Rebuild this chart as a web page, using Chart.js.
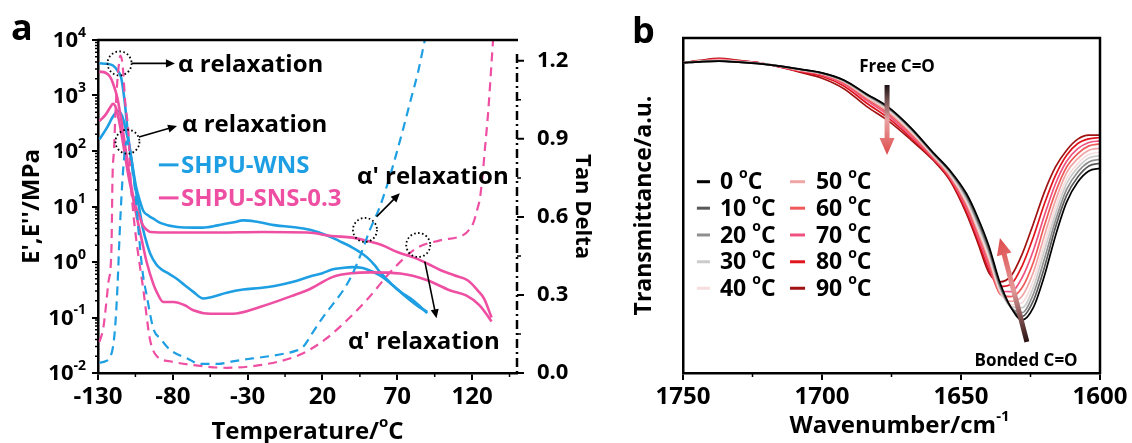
<!DOCTYPE html>
<html>
<head>
<meta charset="utf-8">
<script src="https://cdn.jsdelivr.net/npm/chart.js@4"></script>
<style>
  html, body { margin: 0; padding: 0; background: #fff; }
  #wrap { position: relative; width: 1132px; height: 443px; overflow: hidden; }
  #chartA { position: absolute; left: 0; top: 0; }
  #chartB { position: absolute; left: 620px; top: 0; }
</style>
</head>
<body>
<div id="wrap">
  <canvas id="chartA" width="620" height="443"></canvas>
  <canvas id="chartB" width="512" height="443"></canvas>
</div>
<script>
// ---------- panel a : DMA ----------
const tempTicks = [-130, -80, -30, 20, 70, 120];
const modulusTicks = [0.01, 0.1, 1, 10, 100, 1000, 10000];
const tanTicks = [0, 0.3, 0.6, 0.9, 1.2];
const seriesNames = ["SHPU-WNS", "SHPU-SNS-0.3"];
const seriesColors = ["#1f9fe3", "#ee4fa2"];

// SHPU-WNS storage modulus E' (MPa)
const wnsStorageT = [-129, -124, -120, -117, -114.5, -112, -110, -107, -104.5, -102, -99.7, -96, -93, -88, -77, -66, -60, -50, -40, -33, -25, -11, 0, 11.6, 24, 31, 40, 45, 50, 55, 58.4, 62, 67, 72, 79, 84, 90];
const wnsStorage = [3800, 3720, 3470, 2820, 2090, 708, 200, 56, 22.4, 12.6, 8.3, 6.76, 6.03, 5.01, 4.27, 4.17, 4.17, 4.57, 5.13, 5.62, 5.37, 4.57, 4.27, 3.80, 2.95, 2.40, 1.82, 1.51, 1.20, 0.871, 0.661, 0.525, 0.380, 0.288, 0.200, 0.158, 0.126];
// SHPU-WNS loss modulus E'' (MPa)
const wnsLossT = [-129, -124, -120, -116.7, -114, -112, -109, -106.4, -104.8, -102, -100, -97, -95, -91, -88, -82, -77.4, -72, -66.3, -59.7, -55, -44, -33, -21.8, -12, 0.5, 11.6, 20, 27, 33, 40, 46, 54, 60, 67, 73, 79, 84, 90];
const wnsLoss = [162, 263, 417, 525, 437, 282, 120, 40, 20, 8, 4, 2.0, 1.4, 0.9, 0.75, 0.60, 0.50, 0.38, 0.29, 0.22, 0.23, 0.28, 0.32, 0.34, 0.37, 0.44, 0.55, 0.63, 0.74, 0.78, 0.81, 0.79, 0.66, 0.54, 0.38, 0.28, 0.22, 0.17, 0.12];
// SHPU-WNS tan delta
const wnsTanT = [-129, -125, -122, -120, -118.5, -117, -115.5, -114, -112.5, -110.8, -109, -107, -105, -103, -100, -97.5, -93, -88, -82, -70, -62, -50, -40, -28, -15, -5, 2, 7, 14, 20.5, 27, 34, 40, 45, 51.7, 58.4, 65, 69.5, 74, 79, 84, 88.4];
const wnsTan = [0.04, 0.045, 0.06, 0.1, 0.18, 0.33, 0.54, 0.71, 0.83, 0.89, 0.86, 0.78, 0.69, 0.55, 0.38, 0.3, 0.17, 0.13, 0.09, 0.055, 0.035, 0.035, 0.045, 0.055, 0.065, 0.075, 0.085, 0.1, 0.16, 0.216, 0.265, 0.319, 0.38, 0.447, 0.55, 0.64, 0.755, 0.845, 0.94, 1.05, 1.16, 1.28];

// SHPU-SNS-0.3 storage modulus E' (MPa)
const snsStorageT = [-129, -125, -122, -120, -117, -115, -113, -110, -107, -104.8, -102, -100, -97, -95, -80, -50, -20, 10, 26, 40, 50, 60, 70, 83, 91, 99, 108, 117, 124, 128, 133];
const snsStorage = [2690, 2570, 2190, 1660, 891, 447, 200, 56, 17.8, 10, 6.3, 4.57, 3.72, 3.47, 3.39, 3.39, 3.47, 3.39, 2.95, 2.75, 2.40, 2.0, 1.51, 1.15, 0.91, 0.71, 0.575, 0.468, 0.302, 0.219, 0.10];
// SHPU-SNS-0.3 loss modulus E'' (MPa)
const snsLossT = [-129, -125, -122, -120, -118, -116, -113, -110, -107, -104, -102, -100, -97.5, -93, -90.8, -86.4, -79.7, -72, -66.3, -55, -40, -21.8, 0.5, 12, 27, 40, 52, 72, 90, 105, 116, 125, 133];
const snsLoss = [347, 447, 603, 708, 603, 355, 126, 40, 15.8, 6.3, 3.55, 2.0, 1.0, 0.40, 0.29, 0.19, 0.19, 0.166, 0.135, 0.117, 0.117, 0.155, 0.25, 0.33, 0.54, 0.63, 0.65, 0.62, 0.47, 0.31, 0.25, 0.166, 0.085];
// SHPU-SNS-0.3 tan delta
const snsTanT = [-129, -126.4, -123, -121, -120.3, -119.3, -118, -116.5, -115, -113.5, -111.8, -109.5, -108.4, -106.5, -104.6, -99.7, -95.3, -90.8, -82, -66, -44, -22, 0.5, 11.6, 22, 34, 49.5, 67.3, 83, 98.5, 114, 118, 121, 123.5, 125.2, 127, 128.7, 130.7, 132.5, 134];
const snsTan = [0.12, 0.175, 0.35, 0.48, 0.75, 0.86, 1.04, 1.16, 1.22, 1.18, 1.04, 0.91, 0.76, 0.62, 0.52, 0.32, 0.13, 0.065, 0.045, 0.03, 0.02, 0.03, 0.06, 0.09, 0.13, 0.19, 0.28, 0.40, 0.48, 0.51, 0.53, 0.55, 0.58, 0.63, 0.67, 0.76, 0.87, 1.0, 1.15, 1.28];

// ---------- panel b : FTIR ----------
const waveTicks = [1750, 1700, 1650, 1600];
const waveNumbers = [1750, 1744, 1737, 1730, 1722, 1715, 1708, 1700, 1692, 1684, 1676, 1668, 1660, 1654, 1648, 1644, 1640, 1636, 1632, 1628, 1624, 1620, 1616, 1612, 1608, 1604, 1600];
const ftirTemps = [0, 10, 20, 30, 40, 50, 60, 70, 80, 90];
const ftir0  = [92.6, 92.9, 93.1, 92.8, 92.3, 91.6, 90.7, 89.6, 87.4, 83.3, 79.3, 73.2, 65.8, 60.5, 53.5, 46.5, 38.0, 27.0, 19.5, 15.8, 19.5, 29.0, 41.0, 51.0, 57.0, 60.3, 61.1];
const ftir10 = [92.6, 92.9, 93.1, 92.8, 92.3, 91.6, 90.7, 89.5, 87.3, 83.2, 79.1, 73.0, 65.6, 60.3, 53.0, 45.8, 37.2, 26.4, 19.5, 16.9, 21.5, 31.5, 43.5, 53.0, 58.5, 61.8, 62.6];
const ftir20 = [92.6, 92.9, 93.2, 92.8, 92.3, 91.6, 90.6, 89.5, 87.2, 83.0, 78.9, 72.8, 65.4, 60.0, 52.4, 45.0, 36.4, 25.8, 19.6, 18.0, 23.5, 34.0, 45.5, 54.8, 60.0, 63.0, 63.8];
const ftir30 = [92.6, 93.0, 93.2, 92.9, 92.4, 91.6, 90.6, 89.4, 87.1, 82.8, 78.6, 72.5, 65.2, 59.7, 51.8, 44.2, 35.6, 25.2, 19.8, 19.5, 25.5, 36.5, 47.5, 56.5, 61.3, 64.2, 64.9];
const ftir40 = [92.6, 93.0, 93.3, 92.9, 92.4, 91.6, 90.5, 89.4, 87.0, 82.6, 78.3, 72.2, 65.0, 59.4, 51.2, 43.4, 34.8, 24.6, 20.4, 21.0, 27.5, 38.5, 49.5, 58.0, 62.5, 65.2, 65.9];
const ftir50 = [92.6, 93.0, 93.4, 93.0, 92.4, 91.5, 90.4, 89.3, 86.8, 82.3, 77.9, 71.8, 64.7, 59.0, 50.6, 42.6, 34.0, 24.0, 21.4, 23.0, 30.0, 41.0, 51.5, 59.8, 64.0, 66.5, 67.1];
const ftir60 = [92.6, 93.1, 93.5, 93.0, 92.4, 91.5, 90.3, 89.2, 86.5, 81.9, 77.4, 71.3, 64.4, 58.6, 49.8, 41.7, 33.0, 23.6, 22.8, 25.5, 33.0, 44.0, 54.0, 61.5, 65.5, 67.8, 68.4];
const ftir70 = [92.6, 93.1, 93.6, 93.1, 92.5, 91.4, 90.2, 89.0, 86.2, 81.4, 76.8, 70.7, 64.1, 58.3, 49.0, 40.8, 32.0, 24.4, 24.3, 28.5, 36.5, 47.0, 56.5, 63.2, 67.0, 68.8, 69.3];
const ftir80 = [92.6, 93.2, 93.8, 93.2, 92.5, 91.4, 90.0, 88.6, 85.6, 80.6, 76.0, 70.2, 63.8, 57.9, 48.2, 39.9, 31.0, 25.8, 26.5, 32.0, 40.5, 50.5, 59.0, 65.0, 68.5, 69.9, 70.3];
const ftir90 = [92.6, 93.3, 93.9, 93.3, 92.5, 91.3, 89.8, 88.0, 84.8, 79.6, 75.2, 69.6, 63.5, 57.5, 47.5, 39.0, 30.0, 27.2, 29.0, 35.5, 44.5, 54.0, 61.5, 66.5, 69.8, 71.0, 71.0];
const ftirSeries = [ftir0, ftir10, ftir20, ftir30, ftir40, ftir50, ftir60, ftir70, ftir80, ftir90];
const ftirColors = ["#000000", "#585858", "#8f8f8f", "#cbcbcb", "#f6dede", "#f0a5a5", "#f05a5a", "#ef5280", "#e0141c", "#a01212"];

// ---------- helpers ----------
Chart.defaults.font.family = "'Open Sans', sans-serif";
Chart.defaults.color = "#000";
const FONT = "'Open Sans', sans-serif";

function pairs(xs, ys) { return xs.map((x, i) => ({ x: x, y: ys[i] })); }

function richText(ctx, parts, x, y, size, align) {
  const supSize = Math.round(size * 0.62);
  const widths = parts.map(([t, sup]) => {
    ctx.font = "bold " + (sup ? supSize : size) + "px " + FONT;
    return ctx.measureText(t).width;
  });
  const total = widths.reduce((a, b) => a + b, 0);
  let cx = align === "center" ? x - total / 2 : align === "right" ? x - total : x;
  ctx.textAlign = "left";
  ctx.textBaseline = "middle";
  parts.forEach(([t, sup], i) => {
    ctx.font = "bold " + (sup ? supSize : size) + "px " + FONT;
    ctx.fillText(t, cx, sup ? y - size * 0.38 : y);
    cx += widths[i];
  });
}

function degParts(label) {
  const [a, b] = label.split("°");
  return [[a, false], ["o", true], [b, false]];
}

function arrow(ctx, x1, y1, x2, y2, head) {
  const a = Math.atan2(y2 - y1, x2 - x1);
  ctx.beginPath();
  ctx.moveTo(x1, y1);
  ctx.lineTo(x2 - head * 0.8 * Math.cos(a), y2 - head * 0.8 * Math.sin(a));
  ctx.stroke();
  ctx.beginPath();
  ctx.moveTo(x2, y2);
  ctx.lineTo(x2 - head * Math.cos(a) + head * 0.45 * Math.sin(a), y2 - head * Math.sin(a) - head * 0.45 * Math.cos(a));
  ctx.lineTo(x2 - head * Math.cos(a) - head * 0.45 * Math.sin(a), y2 - head * Math.sin(a) + head * 0.45 * Math.cos(a));
  ctx.closePath();
  ctx.fill();
}

function fatArrow(ctx, x1, y1, x2, y2, stops) {
  const a = Math.atan2(y2 - y1, x2 - x1), len = Math.hypot(x2 - x1, y2 - y1);
  const shaftW = 5, headW = 15, headL = 17;
  const g = ctx.createLinearGradient(x1, y1, x2, y2);
  stops.forEach(([p, c]) => g.addColorStop(p, c));
  ctx.save();
  ctx.translate(x1, y1);
  ctx.rotate(a);
  ctx.beginPath();
  ctx.moveTo(0, -shaftW / 2);
  ctx.lineTo(len - headL, -shaftW / 2);
  ctx.lineTo(len - headL, -headW / 2);
  ctx.lineTo(len, 0);
  ctx.lineTo(len - headL, headW / 2);
  ctx.lineTo(len - headL, shaftW / 2);
  ctx.lineTo(0, shaftW / 2);
  ctx.closePath();
  ctx.restore();
  ctx.fillStyle = g;
  ctx.fill();
}

function minorTicks(ctx, scale, values, len, side, at) {
  ctx.beginPath();
  values.forEach(v => {
    const p = scale.getPixelForValue(v);
    if (side === "bottom") { ctx.moveTo(p, scale.top); ctx.lineTo(p, scale.top + len); }
    if (side === "left") { ctx.moveTo(scale.right, p); ctx.lineTo(scale.right - len, p); }
    if (side === "right") { ctx.moveTo(at, p); ctx.lineTo(at + len, p); }
  });
  ctx.stroke();
}

// annotation spots, in (temperature, tan delta) units
const alphaNotes = [
  { text: "α relaxation", circle: [-115.6, 1.19], from: [-107.6, 1.19], to: [-78.6, 1.19], label: [-76.6, 1.184] },
  { text: "α relaxation", circle: [-110.3, 0.889], from: [-102.6, 0.907], to: [-77.2, 0.949], label: [-73.9, 0.953] },
  { text: "α' relaxation", circle: [48.4, 0.55], from: [56.2, 0.601], to: [71.7, 0.691], label: [43, 0.753] },
  { text: "α' relaxation", circle: [84, 0.492], from: [88.4, 0.428], to: [96.2, 0.21], label: [37, 0.12] }
];

const panelAOverlay = {
  id: "panelAOverlay",
  afterDraw(chart) {
    const { ctx, chartArea: ca } = chart;
    const { x, y, y1 } = chart.scales;
    ctx.save();
    ctx.strokeStyle = "#000";
    ctx.fillStyle = "#000";
    // top frame
    ctx.lineWidth = 2.5;
    ctx.beginPath(); ctx.moveTo(ca.left - 1, ca.top); ctx.lineTo(ca.right + 1, ca.top); ctx.stroke();
    // dash-dot right axis for tan delta
    ctx.setLineDash([9, 4, 2, 4]);
    ctx.beginPath(); ctx.moveTo(ca.right, ca.top + 14); ctx.lineTo(ca.right, ca.bottom); ctx.stroke();
    ctx.setLineDash([]);
    ctx.lineWidth = 2;
    minorTicks(ctx, y1, tanTicks, 7, "right", ca.right);
    // minor ticks
    ctx.lineWidth = 1.5;
    const logMinor = [];
    [0.01, 0.1, 1, 10, 100, 1000].forEach(d => { for (let m = 2; m <= 9; m++) logMinor.push(m * d); });
    minorTicks(ctx, y, logMinor, 3, "left");
    minorTicks(ctx, x, [-105, -55, -5, 45, 95, 145], 4, "bottom");
    minorTicks(ctx, y1, [0.15, 0.45, 0.75, 1.05], 4, "right", ca.right);
    // log labels 10^n
    modulusTicks.forEach(v => {
      const exp = String(Math.round(Math.log10(v)));
      richText(ctx, [["10", false], [exp, true]], ca.left - 12, y.getPixelForValue(v) + 1, 22, "right");
    });
    // x title
    richText(ctx, [["Temperature/", false], ["o", true], ["C", false]], (ca.left + ca.right) / 2, 432, 24, "center");
    // panel letter
    ctx.font = "bold 36px " + FONT;
    ctx.textAlign = "left"; ctx.textBaseline = "alphabetic";
    ctx.fillText("a", 11, 40);
    // legend
    [[0.80, 0], [0.673, 1]].forEach(([tv, i]) => {
      const py = y1.getPixelForValue(tv);
      ctx.strokeStyle = seriesColors[i];
      ctx.lineWidth = 3;
      ctx.beginPath(); ctx.moveTo(x.getPixelForValue(-89.3), py); ctx.lineTo(x.getPixelForValue(-76.2), py); ctx.stroke();
      ctx.fillStyle = seriesColors[i];
      ctx.font = "bold 24px " + FONT;
      ctx.textAlign = "left"; ctx.textBaseline = "middle";
      ctx.fillText(seriesNames[i], x.getPixelForValue(-74.5), py + 1);
    });
    // relaxation notes
    ctx.strokeStyle = "#000"; ctx.fillStyle = "#000";
    alphaNotes.forEach(n => {
      ctx.lineWidth = 1.8;
      ctx.setLineDash([1.6, 2.4]);
      ctx.beginPath();
      ctx.arc(x.getPixelForValue(n.circle[0]), y1.getPixelForValue(n.circle[1]), 12, 0, Math.PI * 2);
      ctx.stroke();
      ctx.setLineDash([]);
      ctx.lineWidth = 1.6;
      arrow(ctx, x.getPixelForValue(n.from[0]), y1.getPixelForValue(n.from[1]),
        x.getPixelForValue(n.to[0]), y1.getPixelForValue(n.to[1]), 9);
      ctx.font = "bold 24px " + FONT;
      ctx.textAlign = "left"; ctx.textBaseline = "middle";
      ctx.fillText(n.text, x.getPixelForValue(n.label[0]), y1.getPixelForValue(n.label[1]));
    });
    ctx.restore();
  }
};

const solid = (label, xs, ys, color) => ({
  label: label, data: pairs(xs, ys), yAxisID: "y", borderColor: color, borderWidth: 2.6,
  pointRadius: 0, cubicInterpolationMode: "monotone", fill: false
});
const dashed = (label, xs, ys, color) => ({
  label: label, data: pairs(xs, ys), yAxisID: "y1", borderColor: color, borderWidth: 2.2,
  borderDash: [9, 6], pointRadius: 0, cubicInterpolationMode: "monotone", fill: false
});

new Chart(document.getElementById("chartA"), {
  type: "line",
  data: {
    datasets: [
      dashed(seriesNames[0] + " tan δ", wnsTanT, wnsTan, seriesColors[0]),
      dashed(seriesNames[1] + " tan δ", snsTanT, snsTan, seriesColors[1]),
      solid(seriesNames[1] + " E''", snsLossT, snsLoss, seriesColors[1]),
      solid(seriesNames[1] + " E'", snsStorageT, snsStorage, seriesColors[1]),
      solid(seriesNames[0] + " E''", wnsLossT, wnsLoss, seriesColors[0]),
      solid(seriesNames[0] + " E'", wnsStorageT, wnsStorage, seriesColors[0])
    ]
  },
  options: {
    responsive: false,
    animation: false,
    devicePixelRatio: 1,
    layout: { padding: { top: 40, left: 0, right: 0, bottom: 0 } },
    plugins: { legend: { display: false }, tooltip: { enabled: false } },
    scales: {
      x: {
        type: "linear", min: -130, max: 150,
        afterBuildTicks: s => { s.ticks = tempTicks.map(v => ({ value: v })); },
        afterFit: s => { s.height = 70; },
        ticks: { font: { size: 24, weight: "bold" }, padding: 3, maxRotation: 0, autoSkip: false, callback: v => String(v) },
        grid: { drawOnChartArea: false, color: "#000", lineWidth: 2, tickLength: 7 },
        border: { color: "#000", width: 2.5 }
      },
      y: {
        type: "logarithmic", position: "left", min: 0.01, max: 10000,
        afterBuildTicks: s => { s.ticks = modulusTicks.map(v => ({ value: v })); },
        afterFit: s => { s.width = 98; },
        ticks: { display: false },
        grid: { drawOnChartArea: false, color: "#000", lineWidth: 2, tickLength: 6 },
        border: { color: "#000", width: 2.5 },
        title: { display: true, text: "E',E''/MPa", font: { size: 24, weight: "bold" }, padding: { top: 18, bottom: 0 } }
      },
      y1: {
        type: "linear", position: "right", min: 0, max: 1.28,
        afterBuildTicks: s => { s.ticks = tanTicks.map(v => ({ value: v })); },
        afterFit: s => { s.width = 103; },
        ticks: { font: { size: 22, weight: "bold" }, padding: 12, callback: v => v.toFixed(1) },
        grid: { display: false },
        border: { display: false },
        title: { display: true, text: "Tan Delta", font: { size: 22, weight: "bold" }, padding: { top: 25, bottom: 0 } }
      }
    }
  },
  plugins: [panelAOverlay]
});

// ---------- panel b ----------
const legendRows = [57.1, 49.2, 41.2, 33.2, 25.3];

const panelBOverlay = {
  id: "panelBOverlay",
  afterDraw(chart) {
    const { ctx, chartArea: ca } = chart;
    const { x, y } = chart.scales;
    ctx.save();
    ctx.strokeStyle = "#000"; ctx.fillStyle = "#000";
    ctx.lineWidth = 2.5;
    ctx.beginPath();
    ctx.moveTo(ca.left - 1, ca.top); ctx.lineTo(ca.right, ca.top); ctx.lineTo(ca.right, ca.bottom + 1);
    ctx.stroke();
    ctx.lineWidth = 1.5;
    minorTicks(ctx, x, [1725, 1675, 1625], 4, "bottom");
    richText(ctx, [["Wavenumber/cm", false], ["-1", true]], (ca.left + ca.right) / 2 + 8, 426, 24, "center");
    ctx.font = "bold 36px " + FONT;
    ctx.textAlign = "left"; ctx.textBaseline = "alphabetic";
    ctx.fillText("b", 12, 43);
    // legend in two columns
    ftirTemps.forEach((t, i) => {
      const col = i < 5 ? 0 : 1;
      const py = y.getPixelForValue(legendRows[i % 5]);
      const lx = col === 0 ? [1745, 1740.3, 1736.7] : [1711.5, 1706.1, 1702.2];
      ctx.strokeStyle = ftirColors[i];
      ctx.lineWidth = 3;
      ctx.beginPath(); ctx.moveTo(x.getPixelForValue(lx[0]), py); ctx.lineTo(x.getPixelForValue(lx[1]), py); ctx.stroke();
      ctx.fillStyle = "#000";
      richText(ctx, degParts(t + " °C"), x.getPixelForValue(lx[2]), py + 1, 23, "left");
    });
    // arrows and labels
    ctx.fillStyle = "#000";
    ctx.font = "bold 17px " + FONT;
    ctx.textAlign = "center"; ctx.textBaseline = "middle";
    ctx.fillText("Free C=O", x.getPixelForValue(1673), y.getPixelForValue(91.3));
    ctx.fillText("Bonded C=O", x.getPixelForValue(1626.6), y.getPixelForValue(3.6));
    fatArrow(ctx, x.getPixelForValue(1676.6), y.getPixelForValue(86), x.getPixelForValue(1676.6), y.getPixelForValue(65.1),
      [[0, "#1a1010"], [0.5, "#e8a2a2"], [1, "#df4b4b"]]);
    fatArrow(ctx, x.getPixelForValue(1626.3), y.getPixelForValue(9.3), x.getPixelForValue(1636), y.getPixelForValue(40.3),
      [[0, "#2a1212"], [0.5, "#e59a9a"], [1, "#df4b4b"]]);
    ctx.restore();
  }
};

new Chart(document.getElementById("chartB"), {
  type: "line",
  data: {
    datasets: ftirSeries.map((s, i) => ({
      label: ftirTemps[i] + " °C",
      data: pairs(waveNumbers, s),
      borderColor: ftirColors[i],
      borderWidth: 1.7,
      pointRadius: 0,
      cubicInterpolationMode: "monotone",
      fill: false
    }))
  },
  options: {
    responsive: false,
    animation: false,
    devicePixelRatio: 1,
    layout: { padding: { top: 38, left: 0, right: 32, bottom: 0 } },
    plugins: { legend: { display: false }, tooltip: { enabled: false } },
    scales: {
      x: {
        type: "linear", min: 1600, max: 1750, reverse: true,
        afterBuildTicks: s => { s.ticks = waveTicks.map(v => ({ value: v })); },
        afterFit: s => { s.height = 70; },
        ticks: { font: { size: 24, weight: "bold" }, padding: 3, maxRotation: 0, autoSkip: false, callback: v => String(v) },
        grid: { drawOnChartArea: false, color: "#000", lineWidth: 2, tickLength: 7 },
        border: { color: "#000", width: 2.5 }
      },
      y: {
        type: "linear", min: 0, max: 100,
        afterFit: s => { s.width = 63; },
        ticks: { display: false },
        grid: { display: false },
        border: { color: "#000", width: 2.5 },
        title: { display: true, text: "Transmittance/a.u.", font: { size: 23, weight: "bold" }, padding: { top: 11, bottom: 0 } }
      }
    }
  },
  plugins: [panelBOverlay]
});
</script>
</body>
</html>
